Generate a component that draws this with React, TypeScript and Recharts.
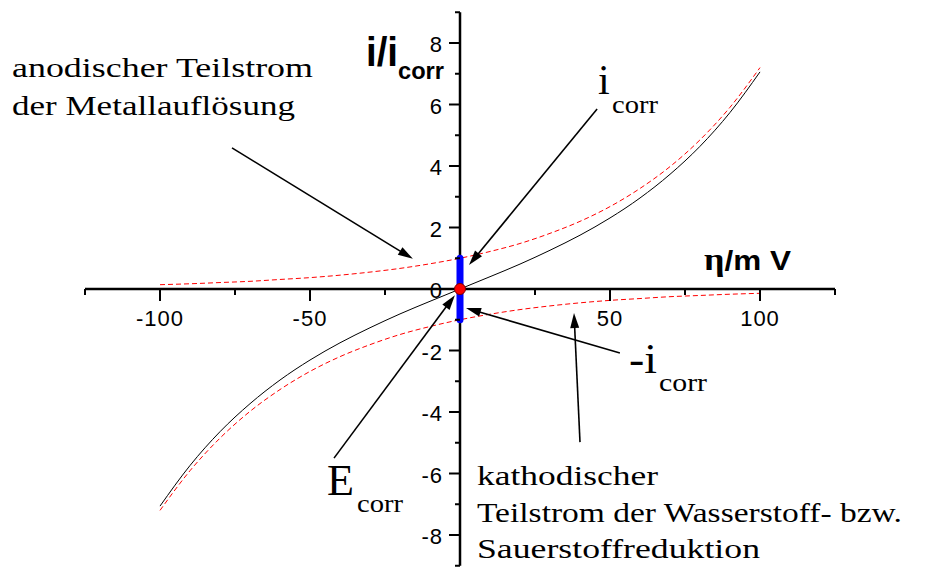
import React from 'react';
import {
  ComposedChart,
  Line,
  XAxis,
  YAxis,
  ReferenceLine,
  ReferenceDot,
  Customized,
} from 'recharts';

// Overpotential in mV
const etaMv = [-100, -90, -80, -70, -60, -50, -40, -30, -20, -10, 0, 10, 20, 30, 40, 50, 60, 70, 80, 90, 100];
// Anodic partial current (metal dissolution), i/i_corr
const anodicCurrent = [0.14, 0.17, 0.21, 0.25, 0.31, 0.37, 0.45, 0.55, 0.67, 0.82, 1.0, 1.22, 1.48, 1.81, 2.2, 2.68, 3.27, 3.98, 4.85, 5.91, 7.2];
// Cathodic partial current (hydrogen / oxygen reduction), i/i_corr
const cathodicCurrent = [-7.2, -5.91, -4.85, -3.98, -3.27, -2.68, -2.2, -1.81, -1.48, -1.22, -1.0, -0.82, -0.67, -0.55, -0.45, -0.37, -0.31, -0.25, -0.21, -0.17, -0.14];
// Measured total current, i/i_corr
const totalCurrent = [-7.06, -5.74, -4.64, -3.73, -2.96, -2.31, -1.75, -1.26, -0.81, -0.4, 0, 0.4, 0.81, 1.26, 1.75, 2.31, 2.96, 3.73, 4.64, 5.74, 7.06];

const xDomain: [number, number] = [-125, 125];
const yDomain: [number, number] = [-9, 9];
const xMajorTicks = [-100, -50, 50, 100];
const xMinorTicks = [-125, -75, -25, 25, 75, 125];
const yMajorTicks = [-8, -6, -4, -2, 0, 2, 4, 6, 8];
const yMinorTicks = [-9, -7, -5, -3, -1, 1, 3, 5, 7, 9];

// Corrosion current band at the corrosion potential
const corrBand = [1, -1];

// Annotation arrows: [start, tip] in (mV, i/i_corr)
const arrows: { from: [number, number]; to: [number, number] }[] = [
  { from: [-76, 4.59], to: [-15.7, 0.98] },
  { from: [45.7, 5.85], to: [3, 0.78] },
  { from: [53.3, -2.08], to: [2, -0.62] },
  { from: [-42, -5.5], to: [-1.7, -0.2] },
  { from: [40, -4.98], to: [38, -0.78] },
];

const rows = etaMv.map((eta, i) => ({
  eta,
  anodic: anodicCurrent[i],
  cathodic: cathodicCurrent[i],
  total: totalCurrent[i],
}));

const SANS = '"Liberation Sans", Arial, sans-serif';
const SERIF = '"Liberation Serif", "Times New Roman", serif';

const ArrowShape = (props: any) => {
  const { x1, y1, x2, y2 } = props;
  if ([x1, y1, x2, y2].some((v) => typeof v !== 'number' || isNaN(v))) return null;
  const dx = x2 - x1;
  const dy = y2 - y1;
  const len = Math.hypot(dx, dy) || 1;
  const ux = dx / len;
  const uy = dy / len;
  const head = 15;
  const half = 4.5;
  const bx = x2 - ux * head;
  const by = y2 - uy * head;
  const px = -uy * half;
  const py = ux * half;
  return (
    <g>
      <line x1={x1} y1={y1} x2={bx + ux * 2} y2={by + uy * 2} stroke="#000" strokeWidth={1.6} />
      <polygon points={`${x2},${y2} ${bx + px},${by + py} ${bx - px},${by - py}`} fill="#000" />
    </g>
  );
};

const xTick = (major: boolean, value: number) => (props: any) => {
  const { cx, cy } = props;
  if (typeof cx !== 'number' || typeof cy !== 'number') return null;
  return (
    <g>
      <line x1={cx} y1={cy} x2={cx} y2={cy + (major ? 12 : 6)} stroke="#000" strokeWidth={2} />
      {major && (
        <text x={cx} y={cy + 37} textAnchor="middle" fontFamily={SANS} fontSize={22} letterSpacing={1} fill="#000">
          {value}
        </text>
      )}
    </g>
  );
};

const yTick = (major: boolean, value: number) => (props: any) => {
  const { cx, cy } = props;
  if (typeof cx !== 'number' || typeof cy !== 'number') return null;
  return (
    <g>
      <line x1={cx} y1={cy} x2={cx - (major ? 11 : 5)} y2={cy} stroke="#000" strokeWidth={2} />
      {major && (
        <text x={cx - 17} y={cy + 9} textAnchor="end" fontFamily={SANS} fontSize={22} letterSpacing={1} fill="#000">
          {value}
        </text>
      )}
    </g>
  );
};

const Annotations = () => (
  <g fill="#000">
    <text x={12} y={77} fontFamily={SERIF} fontSize={27} textLength={301} lengthAdjust="spacingAndGlyphs">
      anodischer Teilstrom
    </text>
    <text x={12} y={115} fontFamily={SERIF} fontSize={27} textLength={283} lengthAdjust="spacingAndGlyphs">
      der Metallauflösung
    </text>

    <text x={366} y={66} fontFamily={SANS} fontWeight="bold" fontSize={40} textLength={32} lengthAdjust="spacingAndGlyphs">
      i/i
    </text>
    <text x={398} y={79} fontFamily={SANS} fontWeight="bold" fontSize={24} textLength={46} lengthAdjust="spacingAndGlyphs">
      corr
    </text>

    <text x={704} y={270} fontWeight="bold" fontSize={28} textLength={87} lengthAdjust="spacingAndGlyphs">
      <tspan fontFamily={SERIF} fontSize={32}>η</tspan>
      <tspan fontFamily={SANS}>/m V</tspan>
    </text>

    <text x={598} y={94} fontFamily={SERIF} fontSize={42}>i</text>
    <text x={612} y={113} fontFamily={SERIF} fontSize={25} textLength={46} lengthAdjust="spacingAndGlyphs">corr</text>

    <text x={629} y={373} fontFamily={SERIF} fontSize={42} textLength={28} lengthAdjust="spacingAndGlyphs">-i</text>
    <text x={659} y={391} fontFamily={SERIF} fontSize={25} textLength={48} lengthAdjust="spacingAndGlyphs">corr</text>

    <text x={327} y={495} fontFamily={SERIF} fontSize={44} textLength={27} lengthAdjust="spacingAndGlyphs">E</text>
    <text x={357} y={512} fontFamily={SERIF} fontSize={25} textLength={46} lengthAdjust="spacingAndGlyphs">corr</text>

    <text x={477} y={485} fontFamily={SERIF} fontSize={27} textLength={181} lengthAdjust="spacingAndGlyphs">
      kathodischer
    </text>
    <text x={477} y={522} fontFamily={SERIF} fontSize={27} textLength={425} lengthAdjust="spacingAndGlyphs">
      Teilstrom der Wasserstoff- bzw.
    </text>
    <text x={477} y={558} fontFamily={SERIF} fontSize={27} textLength={283} lengthAdjust="spacingAndGlyphs">
      Sauerstoffreduktion
    </text>
  </g>
);

export default function App() {
  return (
    <div style={{ position: 'absolute', left: 0, top: 0, background: '#fff' }}>
      <ComposedChart
        width={942}
        height={567}
        data={rows}
        margin={{ top: 12.25, right: 107, bottom: 1.25, left: 85 }}
      >
        <XAxis dataKey="eta" type="number" domain={xDomain} allowDataOverflow hide />
        <YAxis type="number" domain={yDomain} allowDataOverflow hide />

        <Line type="monotone" dataKey="anodic" stroke="#ff0000" strokeWidth={1} strokeDasharray="5 3" dot={false} isAnimationActive={false} />
        <Line type="monotone" dataKey="cathodic" stroke="#ff0000" strokeWidth={1} strokeDasharray="5 3" dot={false} isAnimationActive={false} />
        <Line type="monotone" dataKey="total" stroke="#000" strokeWidth={1} dot={false} isAnimationActive={false} />

        <ReferenceLine y={0} stroke="#000" strokeWidth={2.5} ifOverflow="visible" />
        <ReferenceLine x={0} stroke="#000" strokeWidth={2.5} ifOverflow="visible" />

        {xMinorTicks.map((v) => (
          <ReferenceDot key={`xm${v}`} x={v} y={0} r={0} ifOverflow="visible" shape={xTick(false, v)} />
        ))}
        {xMajorTicks.map((v) => (
          <ReferenceDot key={`xM${v}`} x={v} y={0} r={0} ifOverflow="visible" shape={xTick(true, v)} />
        ))}
        {yMinorTicks.map((v) => (
          <ReferenceDot key={`ym${v}`} x={0} y={v} r={0} ifOverflow="visible" shape={yTick(false, v)} />
        ))}
        {yMajorTicks.map((v) => (
          <ReferenceDot key={`yM${v}`} x={0} y={v} r={0} ifOverflow="visible" shape={yTick(true, v)} />
        ))}

        {arrows.map((a, i) => (
          <ReferenceLine
            key={`arrow${i}`}
            segment={[
              { x: a.from[0], y: a.from[1] },
              { x: a.to[0], y: a.to[1] },
            ]}
            ifOverflow="visible"
            shape={ArrowShape}
          />
        ))}

        <ReferenceLine
          segment={[
            { x: 0, y: corrBand[0] },
            { x: 0, y: corrBand[1] },
          ]}
          stroke="#0000ff"
          strokeWidth={7}
          strokeLinecap="round"
          ifOverflow="visible"
        />
        <ReferenceDot x={0} y={0} r={5.5} fill="#ff0000" stroke="#7a0000" strokeWidth={1} ifOverflow="visible" />

        <Customized component={<Annotations />} />
      </ComposedChart>
    </div>
  );
}
